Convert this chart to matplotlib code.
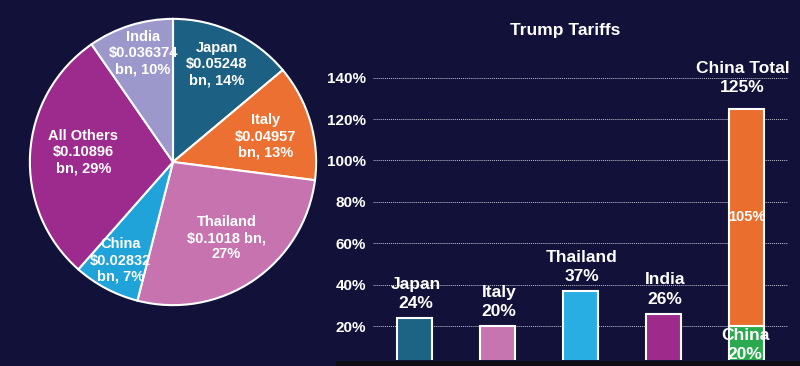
import numpy as np
import matplotlib.pyplot as plt
from matplotlib.patches import Rectangle

# pie data: share of imports
pie_labels = ["Japan", "Italy", "Thailand", "China", "All Others", "India"]
pie_values = [0.05248, 0.04957, 0.1018, 0.02832, 0.10896, 0.036374]
pie_texts = ["Japan\n$0.05248\nbn, 14%", "Italy\n$0.04957\nbn, 13%",
             "Thailand\n$0.1018 bn,\n27%", "China\n$0.02832\nbn, 7%",
             "All Others\n$0.10896\nbn, 29%", "India\n$0.036374\nbn, 10%"]
pie_colors = ["#1c6183", "#ec7031", "#c673b0", "#1fa3d9", "#9d2a8d", "#9d98cb"]

# bar data: tariff rates
bar_labels = ["Japan", "Italy", "Thailand", "India"]
bar_values = [24, 20, 37, 26]
bar_colors = ["#1c6384", "#c675b0", "#29aee3", "#9e2a8c"]
china_base = 20
china_extra = 105
yticks = [20, 40, 60, 80, 100, 120, 140]

BG = "#12113a"
plt.rcParams['font.family'] = ["Liberation Sans", "DejaVu Sans"]

W, H = 800, 366
fig = plt.figure(figsize=(8, 3.66), dpi=100, facecolor=BG)

# ---- pie ----
cx, cy, r = 173, 162, 146
ax1 = fig.add_axes([(cx - r) / W, (H - cy - r) / H, 2 * r / W, 2 * r / H])
ax1.set_facecolor(BG)
wedges, _ = ax1.pie(pie_values, colors=pie_colors, startangle=90, counterclock=False,
                    radius=1, wedgeprops=dict(edgecolor="white", linewidth=1.5))
ax1.set_xlim(-1.02, 1.02)
ax1.set_ylim(-1.02, 1.02)
ax1.set_aspect('equal')
ax1.axis('off')

# label distance and angle nudge per slice
label_dist = [0.75, 0.67, 0.65, 0.78, 0.63, 0.79]
label_nudge = [1, -1, 1, 0, -3, -2]
for w, txt, d, nd in zip(wedges, pie_texts, label_dist, label_nudge):
    ang = np.deg2rad((w.theta1 + w.theta2) / 2 + nd)
    ax1.text(d * np.cos(ang), d * np.sin(ang), txt, ha='center', va='center',
             color='white', fontsize=10.5, fontweight='bold', linespacing=1.2)

# ---- bars ----
ax2 = fig.add_axes([373 / W, 6 / H, 415 / W, 300 / H])
ax2.set_facecolor(BG)
x = np.arange(len(bar_labels))
ax2.bar(x, bar_values, width=0.41, color=bar_colors, edgecolor='white', linewidth=1.5, zorder=2)
xc = len(bar_labels)
ax2.bar(xc, china_base, width=0.41, color="#2aa94f", edgecolor='white', linewidth=1.5, zorder=2)
ax2.bar(xc, china_extra, bottom=china_base, width=0.41, color="#ea6f2f",
        edgecolor='white', linewidth=1.5, zorder=2)

for xi, lab, v in zip(x, bar_labels, bar_values):
    ax2.annotate(f"{lab}\n{v}%", (xi, v), xytext=(1, 5), textcoords='offset points',
                 ha='center', va='bottom', color='white', fontsize=12.5,
                 fontweight='bold', linespacing=1.35, zorder=3)
ax2.annotate(f"China Total\n{china_base + china_extra}%", (xc, china_base + china_extra),
             xytext=(-3, 10), textcoords='offset points', ha='center', va='bottom',
             color='white', fontsize=12.5, fontweight='bold', linespacing=1.35, zorder=3)
ax2.text(xc, china_base + china_extra / 2, f"{china_extra}%", ha='center', va='center',
         color='white', fontsize=10.5, fontweight='bold', zorder=3)
ax2.annotate(f"China\n{china_base}%", (xc, china_base / 2), xytext=(-1, 1),
             textcoords='offset points', ha='center', va='center', color='white',
             fontsize=12.5, fontweight='bold', linespacing=1.35, zorder=3)

ax2.set_xlim(-0.5, 4.5)
ax2.set_ylim(3.6, 148.5)
ax2.set_yticks(yticks)
ax2.set_yticklabels([f"{t}%" for t in yticks], fontsize=11,
                    fontweight='bold', color='white')
ax2.set_xticks([])
ax2.tick_params(axis='y', length=0, pad=5)
ax2.grid(axis='y', color='#c0c0d0', linestyle=(0, (1, 1)), linewidth=0.7, zorder=1)
for s in ax2.spines.values():
    s.set_visible(False)

fig.text(565 / W, 1 - 30 / H, "Trump Tariffs", ha='center', va='center', color='white',
         fontsize=12.5, fontweight='bold')

# dark strip at the bottom of the bar panel
fig.patches.append(Rectangle((336 / W, 0), 1 - 336 / W, 5 / H, transform=fig.transFigure,
                             facecolor='#0e0e14', edgecolor='none', zorder=10))

fig.savefig("out.png", dpi=100, facecolor=BG)
